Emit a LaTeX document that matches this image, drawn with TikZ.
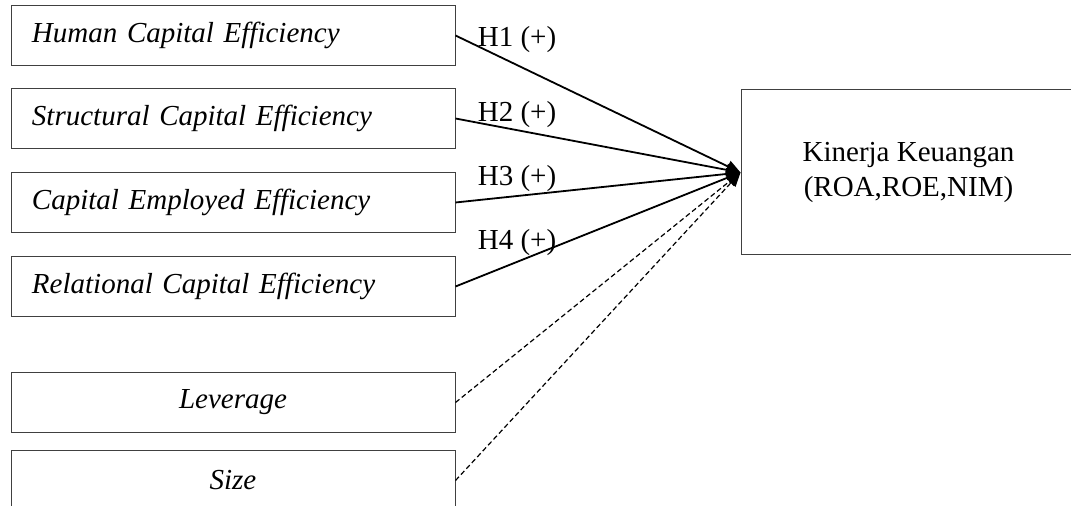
\documentclass[tikz,border=0pt]{standalone}
\usepackage{fontspec}
\setmainfont{Liberation Serif}
\usepackage{tikz}
\usetikzlibrary{arrows.meta}
\usetikzlibrary{positioning}
\tikzset{main box/.style={rectangle,draw=black!75,line width=0.5pt,minimum width=222pt,minimum height=30pt,inner sep=0pt,font=\fontsize{14.5}{17.5}\selectfont\itshape},}
\tikzset{left box/.style={main box,text width=201pt,align=left},}
\tikzset{result box/.style={rectangle,draw=black!75,line width=0.5pt,minimum width=167.5pt,minimum height=82.5pt,inner sep=0pt,align=center},}
\tikzset{hyp line/.style={line width=0.9pt,-{Triangle[length=7pt,width=6pt]}},}
\tikzset{ctrl line/.style={line width=0.6pt,dash pattern=on 2.5pt off 1.5pt,-{Triangle[length=7pt,width=6pt]}},}

\begin{document}
\begin{tikzpicture}[x=1pt,y=1pt,font=\fontsize{14.5}{17.5}\selectfont]
    \useasboundingbox (0,0) rectangle (535.5,-253);
    \node[left box] (1) at (116.5,-17.75) {Human Capital Efficiency};
    \node[left box] (2) [below = 11pt of 1] {Structural Capital Efficiency};
    \node[left box] (3) [below = 11.5pt of 2] {Capital Employed Efficiency};
    \node[left box] (4) [below = 11.5pt of 3] {Relational Capital Efficiency};
    \node[main box] (5) [below = 27.5pt of 4] {Leverage};
    \node[main box] (6) [below = 8.5pt of 5] {Size};
    \node[result box] (k) at (454.25,-86.25) {Kinerja Keuangan\\(ROA,ROE,NIM)};

    \node (h1) [right = 11pt of 1.east, yshift=-2pt, inner sep=0pt] {H1 (+)};
    \node (h2) [right = 11pt of 2.east, yshift=2pt, inner sep=0pt] {H2 (+)};
    \node (h3) [right = 11pt of 3.east, yshift=12pt, inner sep=0pt] {H3 (+)};
    \node (h4) [right = 11pt of 4.east, yshift=22pt, inner sep=0pt] {H4 (+)};

    \path[hyp line] (1.east) edge (k.west);
    \path[hyp line] (2.east) edge (k.west);
    \path[hyp line] (3.east) edge (k.west);
    \path[hyp line] (4.east) edge (k.west);
    \path[ctrl line] (5.east) edge (k.west);
    \path[ctrl line] (6.east) edge (k.west);
\end{tikzpicture}
\end{document}
